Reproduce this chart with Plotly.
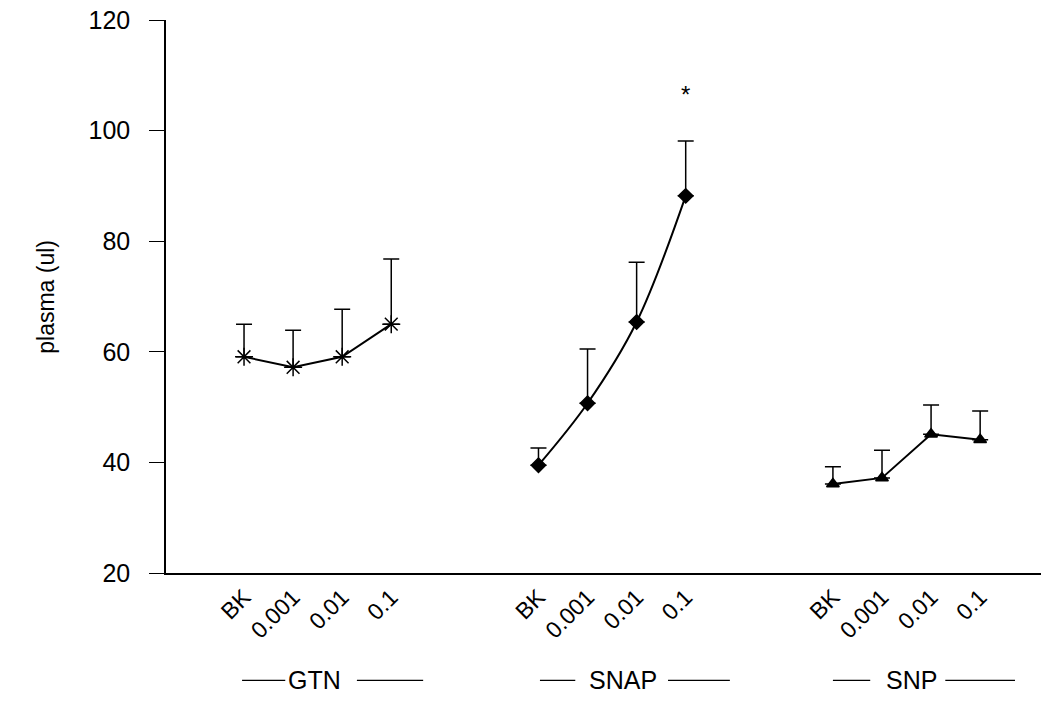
import plotly.graph_objects as go

# ---- data ----
dose_labels = ["BK", "0.001", "0.01", "0.1"]
groups = ["GTN", "SNAP", "SNP"]
gtn_x = [0, 1, 2, 3]
snap_x = [6, 7, 8, 9]
snp_x = [12, 13, 14, 15]

gtn_mean = [59.1, 57.2, 59.1, 65.0]
gtn_upper = [65.0, 63.9, 67.7, 76.8]
snap_mean = [39.5, 50.7, 65.4, 88.2]
snap_upper = [42.6, 60.5, 76.2, 98.1]
snp_mean = [36.1, 37.2, 45.1, 44.1]
snp_upper = [39.2, 42.2, 50.4, 49.3]

star_x = 9
star_y = 106.5

FONT = "Liberation Sans, Arial, sans-serif"

fig = go.Figure()


def add_series(xs, mean, upper, symbol, size, shape):
    err = [u - m for u, m in zip(upper, mean)]
    fig.add_trace(go.Scatter(
        x=xs, y=mean, mode="lines+markers",
        line=dict(color="black", width=2, shape=shape),
        marker=dict(symbol=symbol, size=size, color="black",
                    line=dict(color="black", width=1.5)),
        error_y=dict(type="data", symmetric=False, array=err,
                     arrayminus=[0] * len(err), color="black",
                     thickness=1.5, width=8),
        showlegend=False,
    ))


add_series(gtn_x, gtn_mean, gtn_upper, "asterisk-open", 15, "linear")
add_series(snap_x, snap_mean, snap_upper, "diamond", 11, "spline")
add_series(snp_x, snp_mean, snp_upper, "triangle-up", 11, "linear")

tickvals = gtn_x + snap_x + snp_x
ticktext = dose_labels * 3

fig.add_annotation(x=star_x, y=star_y, text="*", showarrow=False,
                   font=dict(family=FONT, size=24, color="black"))

# group labels beneath axis
group_centers = [1.43, 7.72, 13.61]
left_lines = [(-0.04, 0.84), (6.03, 6.75), (12.0, 12.76)]
right_lines = [(2.30, 3.65), (8.64, 9.90), (14.29, 15.71)]
label_y = -0.194
for name, cx, ll, rl in zip(groups, group_centers, left_lines, right_lines):
    fig.add_annotation(x=cx, y=label_y, xref="x", yref="paper", text=name,
                       showarrow=False, font=dict(family=FONT, size=25, color="black"),
                       xanchor="center", yanchor="middle")
    for a, b in (ll, rl):
        fig.add_shape(type="line", xref="x", yref="paper", x0=a, x1=b,
                      y0=label_y, y1=label_y, line=dict(color="black", width=1.3))

fig.add_annotation(x=-0.138, y=0.5, xref="paper", yref="paper",
                   text="plasma (ul)", textangle=-90, showarrow=False,
                   xanchor="center", yanchor="middle",
                   font=dict(family=FONT, size=23, color="black"))

fig.update_layout(
    width=1042, height=704,
    margin=dict(l=166, r=1, t=20, b=131),
    plot_bgcolor="white", paper_bgcolor="white",
    font=dict(family=FONT, color="black"),
    xaxis=dict(range=[-1.59, 16.24], tickvals=tickvals, ticktext=ticktext,
               tickangle=-45, showline=True, linecolor="black", linewidth=1.5,
               showgrid=False, zeroline=False, ticks="",
               tickfont=dict(family=FONT, size=23, color="black")),
    yaxis=dict(range=[20, 120], dtick=20, tick0=20, showline=True,
               linecolor="black", linewidth=1.5, showgrid=False,
               zeroline=False, ticks="outside", ticklen=15, tickwidth=1.2,
               tickcolor="black", ticklabelstandoff=14,
               tickfont=dict(family=FONT, size=25, color="black")),
)

fig.write_html("out.html")
